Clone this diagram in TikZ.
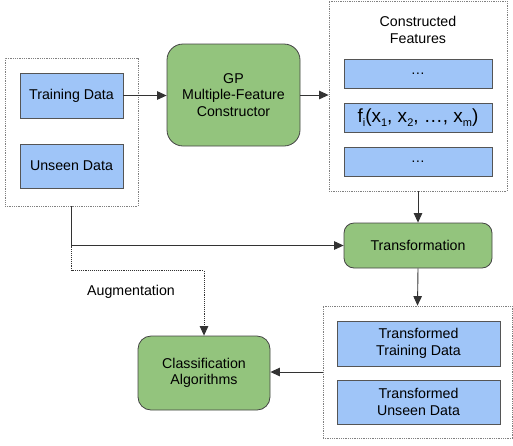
\documentclass[tikz,border=0pt]{standalone}
\usepackage{fontspec}
\setmainfont{Liberation Sans}
\usetikzlibrary{arrows.meta, calc}

\definecolor{databl}{HTML}{9FC5F8}
\definecolor{procgr}{HTML}{93C47D}
\definecolor{edgegr}{HTML}{555555}

% tief gesetzter Index wie im Original
\newcommand{\lowsub}[1]{\raisebox{-0.45ex}{\fontsize{11}{11}\selectfont #1}}

\begin{document}
\begin{tikzpicture}[
    x=1pt, y=-1pt,
    % Daten-Kaesten (blau)
    data/.style={draw=edgegr, fill=databl, line width=0.8pt, align=center,
                 font=\fontsize{14.2}{16.5}\selectfont, inner sep=0pt},
    % Verarbeitungsschritte (gruen, abgerundet)
    proc/.style={draw=edgegr!80!black, fill=procgr, line width=0.8pt, align=center,
                 rounded corners=12pt, font=\fontsize{14.2}{16.5}\selectfont, inner sep=0pt},
    % gepunktete Gruppenrahmen
    group/.style={draw=gray, densely dotted, line width=0.8pt, inner sep=0pt},
    % Verbindungen
    link/.style={draw=black!80, line width=0.9pt, -{Triangle[length=9.5pt,width=8.5pt]}},
    auglink/.style={link, densely dotted}
]
\useasboundingbox (0,0) rectangle (513,445);

% --- Eingangsdaten ---
\node[group, minimum width=133pt, minimum height=148pt] (inputs) at (71.5,132) {};
\node[data, minimum width=103pt, minimum height=45pt] (training) at (71.5,95.5) {Training Data};
\node[data, minimum width=103pt, minimum height=44pt] (unseen) at (71.5,166) {Unseen Data};

% --- GP-Konstruktor ---
\node[proc, rounded corners=16pt, minimum width=133pt, minimum height=102pt] (gp) at (233.5,95)
    {GP\\Multiple-Feature\\Constructor};

% --- konstruierte Merkmale ---
\node[group, minimum width=178pt, minimum height=190pt] (features) at (418,96) {};
\node[align=center, font=\fontsize{14.2}{16.5}\selectfont] (feattitle) at (418,30)
    {Constructed\\Features};
\node[data, minimum width=148pt, minimum height=29pt] (dotsA) at (418,73.5) {…};
\node[data, minimum width=148pt, minimum height=29pt, font=\fontsize{19}{22}\selectfont] (fi) at (418,117.5)
    {f\lowsub{i}(x\lowsub{1}, x\lowsub{2}, …, x\lowsub{m})};
\node[data, minimum width=148pt, minimum height=29pt] (dotsB) at (418,161.5) {…};

% --- Transformation ---
\node[proc, rounded corners=10pt, minimum width=148pt, minimum height=45pt] (trans) at (418,245.5)
    {Transformation};

% --- transformierte Daten ---
\node[group, minimum width=189pt, minimum height=132pt] (outputs) at (417.5,372) {};
\node[data, minimum width=163pt, minimum height=45pt] (ttrain) at (418.5,343.5)
    {Transformed\\Training Data};
\node[data, minimum width=163pt, minimum height=44pt] (tunseen) at (418.5,402)
    {Transformed\\Unseen Data};

% --- Klassifikation ---
\node[proc, rounded corners=13pt, minimum width=132pt, minimum height=74pt] (clf) at (204,373)
    {Classification\\Algorithms};
\node[font=\fontsize{14.2}{16.5}\selectfont] (auglabel) at (131,292) {Augmentation};

% --- Verbindungen ---
\draw[link] (training.east) -- (training.east -| gp.west);
\draw[link] (gp.east) -- (gp.east -| features.west);
\draw[link] (features.south) -- (trans.north);
\coordinate (split) at (inputs.south |- trans.west);
\draw[link] (inputs.south) -- (split) -- (trans.west);
\draw[auglink] (split) -- ++(0,25) -| (clf.north);
\draw[link] (trans.south) -- (outputs.north);
\draw[link] (outputs.west) -- (outputs.west -| clf.east);

\end{tikzpicture}
\end{document}
